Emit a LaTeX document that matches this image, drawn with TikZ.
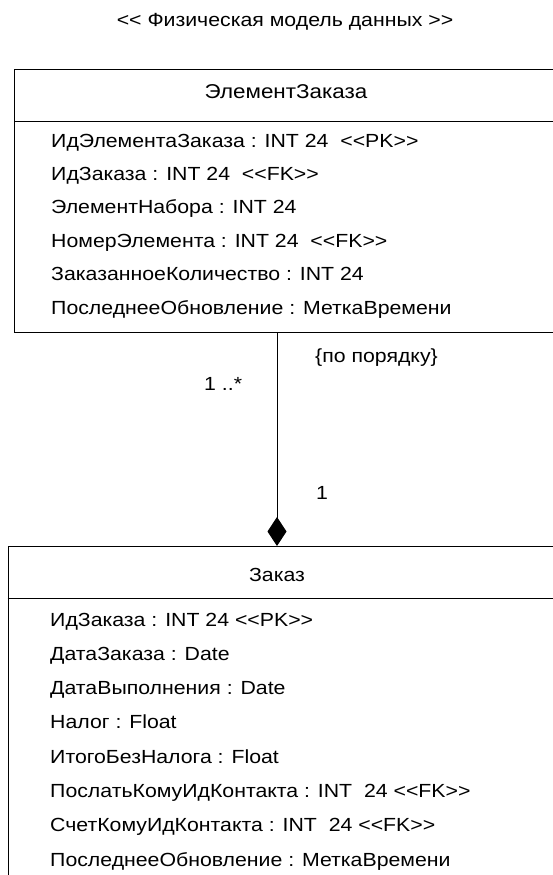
\documentclass[tikz,border=0pt]{standalone}
\usepackage{fontspec}
\setmainfont{Liberation Sans}[FakeStretch=1.12]
\usetikzlibrary{arrows.meta, positioning}

\newcommand{\stereo}[1]{<{}<#1>{}>}

\tikzset{
  entity/.style={draw, line width=0.9pt, anchor=north west, minimum width=550pt, inner sep=0pt},
  attr/.style={anchor=base west, inner sep=0pt},
  caption/.style={anchor=base, inner sep=0pt},
}

\begin{document}
\begin{tikzpicture}[x=1pt, y=-1pt, every node/.style={font=\fontsize{19}{23}\selectfont}]
  \useasboundingbox (0,0) rectangle (552,875);

  \node[caption] (title) at (285,27) {<{}< Физическая модель данных >{}>};

  \node[entity, minimum height=263pt] (elementbox) at (14,69) {};
  \draw[line width=0.9pt] ([yshift=-52pt]elementbox.north west) -- ([yshift=-52pt]elementbox.north east);
  \node[caption, font=\fontsize{20}{24}\selectfont] (elementname) at (286,98) {ЭлементЗаказа};
  \foreach \txt [count=\i from 0] in {
      {ИдЭлементаЗаказа : INT 24 \ \stereo{PK}},
      {ИдЗаказа : INT 24 \ \stereo{FK}},
      {ЭлементНабора : INT 24},
      {НомерЭлемента : INT 24 \ \stereo{FK}},
      {ЗаказанноеКоличество : INT 24},
      {ПоследнееОбновление : МеткаВремени}}
    \node[attr] (elementattr\i) at (51,147+33.4*\i) {\txt};

  \node[entity, minimum height=340pt] (orderbox) at (7.5,546) {};
  \draw[line width=0.9pt] ([yshift=-52pt]orderbox.north west) -- ([yshift=-52pt]orderbox.north east);
  \node[caption] (ordername) at (277,581) {Заказ};
  \foreach \txt [count=\i from 0] in {
      {ИдЗаказа : INT 24 \stereo{PK}},
      {ДатаЗаказа : Date},
      {ДатаВыполнения : Date},
      {Налог : Float},
      {ИтогоБезНалога : Float},
      {ПослатьКомуИдКонтакта : INT \ 24 \stereo{FK}},
      {СчетКомуИдКонтакта : INT \ 24 \stereo{FK}},
      {ПоследнееОбновление : МеткаВремени}}
    \node[attr] (orderattr\i) at (50,626+34.3*\i) {\txt};

  \coordinate (link) at (277,0);
  \draw[line width=0.9pt, -{Diamond[length=29pt, width=19pt]}]
    (elementbox.south -| link) -- (orderbox.north -| link);
  \node[attr] (manyend) at (204,390) {1 ..*};
  \node[attr] (ordering) at (315,362) {\{по порядку\}};
  \node[attr] (oneend) at (316,499) {1};
\end{tikzpicture}
\end{document}
